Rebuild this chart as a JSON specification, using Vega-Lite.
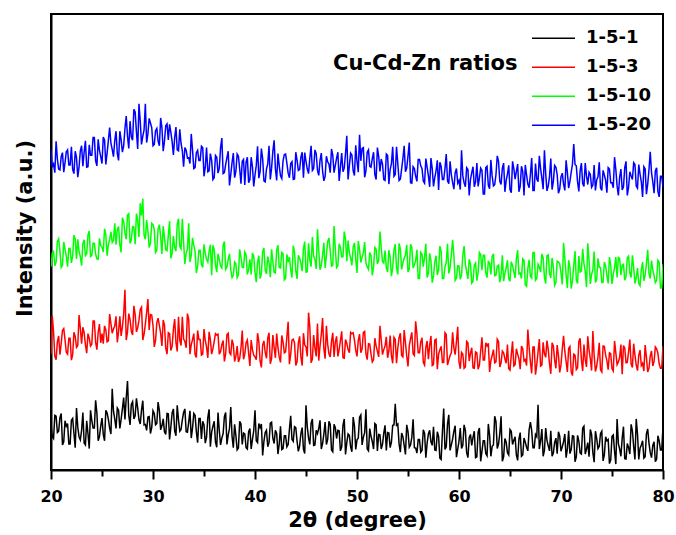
{
"$schema": "https://vega.github.io/schema/vega-lite/v6.json",
"width": 612, "height": 456,
"autosize": "none",
"padding": {"left": 51, "top": 14, "right": 13, "bottom": 65},
"background": "white",
"config": {"view": {"stroke": "black", "strokeWidth": 2}},
"data": {"values": [
{"x":20,"1-5-1":10.2,"1-5-3":25.4,"1-5-10":44.6,"1-5-20":70.2},
{"x":20.25,"1-5-1":6.9,"1-5-3":30.3,"1-5-10":47.9,"1-5-20":67.1},
{"x":20.5,"1-5-1":11.8,"1-5-3":24.2,"1-5-10":45.6,"1-5-20":72.1},
{"x":20.75,"1-5-1":8.5,"1-5-3":29.4,"1-5-10":50.7,"1-5-20":66.0},
{"x":21,"1-5-1":12.4,"1-5-3":27.7,"1-5-10":44.4,"1-5-20":68.7},
{"x":21.25,"1-5-1":6.2,"1-5-3":31.0,"1-5-10":50.0,"1-5-20":65.3},
{"x":21.5,"1-5-1":9.6,"1-5-3":25.8,"1-5-10":46.9,"1-5-20":69.8},
{"x":21.75,"1-5-1":5.7,"1-5-3":28.9,"1-5-10":48.6,"1-5-20":66.9},
{"x":22,"1-5-1":10.9,"1-5-3":24.1,"1-5-10":45.4,"1-5-20":70.9},
{"x":22.25,"1-5-1":8.0,"1-5-3":30.2,"1-5-10":51.5,"1-5-20":65.0},
{"x":22.5,"1-5-1":13.6,"1-5-3":26.9,"1-5-10":46.3,"1-5-20":68.5},
{"x":22.75,"1-5-1":7.3,"1-5-3":34.0,"1-5-10":47.9,"1-5-20":66.4},
{"x":23,"1-5-1":8.7,"1-5-3":27.7,"1-5-10":44.8,"1-5-20":71.1},
{"x":23.25,"1-5-1":5.9,"1-5-3":30.1,"1-5-10":50.5,"1-5-20":69.7},
{"x":23.5,"1-5-1":10.8,"1-5-3":25.6,"1-5-10":47.4,"1-5-20":66.4},
{"x":23.75,"1-5-1":4.7,"1-5-3":28.9,"1-5-10":52.4,"1-5-20":71.3},
{"x":24,"1-5-1":10.9,"1-5-3":27.6,"1-5-10":47.0,"1-5-20":69.0},
{"x":24.25,"1-5-1":9.2,"1-5-3":32.7,"1-5-10":49.7,"1-5-20":72.9},
{"x":24.5,"1-5-1":12.5,"1-5-3":26.4,"1-5-10":46.3,"1-5-20":66.7},
{"x":24.75,"1-5-1":7.3,"1-5-3":32.0,"1-5-10":50.8,"1-5-20":70.1},
{"x":25,"1-5-1":11.4,"1-5-3":29.9,"1-5-10":48.9,"1-5-20":67.2},
{"x":25.25,"1-5-1":6.4,"1-5-3":31.6,"1-5-10":52.9,"1-5-20":72.4},
{"x":25.5,"1-5-1":12.5,"1-5-3":28.1,"1-5-10":47.0,"1-5-20":69.5},
{"x":25.75,"1-5-1":9.2,"1-5-3":34.2,"1-5-10":50.5,"1-5-20":75.1},
{"x":26,"1-5-1":17.8,"1-5-3":30.0,"1-5-10":49.9,"1-5-20":70.3},
{"x":26.25,"1-5-1":11.2,"1-5-3":31.6,"1-5-10":54.1,"1-5-20":72.2},
{"x":26.5,"1-5-1":13.6,"1-5-3":28.0,"1-5-10":52.7,"1-5-20":69.4},
{"x":26.75,"1-5-1":9.1,"1-5-3":33.7,"1-5-10":49.4,"1-5-20":74.3},
{"x":27,"1-5-1":13.4,"1-5-3":31.4,"1-5-10":55.3,"1-5-20":69.7},
{"x":27.25,"1-5-1":11.1,"1-5-3":39.5,"1-5-10":52.0,"1-5-20":74.9},
{"x":27.5,"1-5-1":19.5,"1-5-3":30.3,"1-5-10":55.9,"1-5-20":73.2},
{"x":27.75,"1-5-1":9.9,"1-5-3":33.0,"1-5-10":49.7,"1-5-20":76.5},
{"x":28,"1-5-1":15.0,"1-5-3":29.6,"1-5-10":53.4,"1-5-20":72.3},
{"x":28.25,"1-5-1":11.9,"1-5-3":34.1,"1-5-10":49.5,"1-5-20":78.5},
{"x":28.5,"1-5-1":13.6,"1-5-3":31.2,"1-5-10":54.7,"1-5-20":70.4},
{"x":28.75,"1-5-1":10.1,"1-5-3":35.2,"1-5-10":58.5,"1-5-20":76.5},
{"x":29,"1-5-1":15.2,"1-5-3":28.5,"1-5-10":59.5,"1-5-20":73.2},
{"x":29.25,"1-5-1":10.0,"1-5-3":32.0,"1-5-10":50.6,"1-5-20":80.3},
{"x":29.5,"1-5-1":11.6,"1-5-3":37.5,"1-5-10":52.5,"1-5-20":73.7},
{"x":29.75,"1-5-1":8.0,"1-5-3":34.1,"1-5-10":49.7,"1-5-20":76.1},
{"x":30,"1-5-1":13.0,"1-5-3":31.7,"1-5-10":53.8,"1-5-20":71.1},
{"x":30.25,"1-5-1":9.9,"1-5-3":28.4,"1-5-10":47.7,"1-5-20":74.4},
{"x":30.5,"1-5-1":14.9,"1-5-3":33.3,"1-5-10":52.9,"1-5-20":72.1},
{"x":30.75,"1-5-1":8.8,"1-5-3":30.0,"1-5-10":51.2,"1-5-20":77.2},
{"x":31,"1-5-1":11.2,"1-5-3":32.9,"1-5-10":53.5,"1-5-20":69.9},
{"x":31.25,"1-5-1":7.8,"1-5-3":26.7,"1-5-10":48.3,"1-5-20":75.5},
{"x":31.5,"1-5-1":12.3,"1-5-3":30.1,"1-5-10":51.4,"1-5-20":72.4},
{"x":31.75,"1-5-1":9.4,"1-5-3":26.2,"1-5-10":46.4,"1-5-20":74.1},
{"x":32,"1-5-1":13.4,"1-5-3":30.9,"1-5-10":51.3,"1-5-20":69.1},
{"x":32.25,"1-5-1":7.5,"1-5-3":28.0,"1-5-10":48.0,"1-5-20":75.2},
{"x":32.5,"1-5-1":11.0,"1-5-3":33.6,"1-5-10":55.1,"1-5-20":70.0},
{"x":32.75,"1-5-1":8.9,"1-5-3":27.3,"1-5-10":48.5,"1-5-20":71.6},
{"x":33,"1-5-1":12.6,"1-5-3":28.7,"1-5-10":49.9,"1-5-20":66.5},
{"x":33.25,"1-5-1":8.4,"1-5-3":26.8,"1-5-10":47.5,"1-5-20":70.1},
{"x":33.5,"1-5-1":10.5,"1-5-3":33.1,"1-5-10":54.1,"1-5-20":68.5},
{"x":33.75,"1-5-1":7.0,"1-5-3":27.5,"1-5-10":47.0,"1-5-20":73.7},
{"x":34,"1-5-1":12.4,"1-5-3":29.9,"1-5-10":49.3,"1-5-20":66.1},
{"x":34.25,"1-5-1":8.4,"1-5-3":24.7,"1-5-10":43.2,"1-5-20":69.6},
{"x":34.5,"1-5-1":11.3,"1-5-3":28.6,"1-5-10":48.2,"1-5-20":67.9},
{"x":34.75,"1-5-1":6.8,"1-5-3":25.2,"1-5-10":45.1,"1-5-20":71.0},
{"x":35,"1-5-1":9.9,"1-5-3":30.9,"1-5-10":49.5,"1-5-20":64.4},
{"x":35.25,"1-5-1":7.2,"1-5-3":27.0,"1-5-10":46.2,"1-5-20":70.7},
{"x":35.5,"1-5-1":13.3,"1-5-3":30.3,"1-5-10":47.9,"1-5-20":65.6},
{"x":35.75,"1-5-1":8.3,"1-5-3":25.4,"1-5-10":42.7,"1-5-20":67.9},
{"x":36,"1-5-1":10.7,"1-5-3":28.2,"1-5-10":48.3,"1-5-20":64.1},
{"x":36.25,"1-5-1":5.0,"1-5-3":29.6,"1-5-10":43.4,"1-5-20":68.6},
{"x":36.5,"1-5-1":8.6,"1-5-3":25.4,"1-5-10":46.2,"1-5-20":66.2},
{"x":36.75,"1-5-1":7.0,"1-5-3":27.5,"1-5-10":44.3,"1-5-20":72.8},
{"x":37,"1-5-1":11.7,"1-5-3":23.8,"1-5-10":50.1,"1-5-20":65.2},
{"x":37.25,"1-5-1":5.6,"1-5-3":29.7,"1-5-10":44.5,"1-5-20":68.5},
{"x":37.5,"1-5-1":9.1,"1-5-3":25.7,"1-5-10":47.4,"1-5-20":62.4},
{"x":37.75,"1-5-1":7.4,"1-5-3":28.6,"1-5-10":42.2,"1-5-20":67.4},
{"x":38,"1-5-1":10.0,"1-5-3":23.8,"1-5-10":45.6,"1-5-20":64.1},
{"x":38.25,"1-5-1":4.4,"1-5-3":27.2,"1-5-10":42.2,"1-5-20":69.3},
{"x":38.5,"1-5-1":10.7,"1-5-3":24.5,"1-5-10":48.4,"1-5-20":66.0},
{"x":38.75,"1-5-1":5.6,"1-5-3":30.6,"1-5-10":44.5,"1-5-20":67.7},
{"x":39,"1-5-1":7.9,"1-5-3":25.4,"1-5-10":47.8,"1-5-20":62.5},
{"x":39.25,"1-5-1":4.6,"1-5-3":28.5,"1-5-10":42.9,"1-5-20":68.6},
{"x":39.5,"1-5-1":9.1,"1-5-3":22.8,"1-5-10":46.2,"1-5-20":63.7},
{"x":39.75,"1-5-1":6.7,"1-5-3":26.4,"1-5-10":47.6,"1-5-20":66.5},
{"x":40,"1-5-1":13.1,"1-5-3":24.8,"1-5-10":43.4,"1-5-20":64.7},
{"x":40.25,"1-5-1":6.0,"1-5-3":30.0,"1-5-10":45.5,"1-5-20":71.0},
{"x":40.5,"1-5-1":9.3,"1-5-3":23.9,"1-5-10":42.0,"1-5-20":65.4},
{"x":40.75,"1-5-1":3.2,"1-5-3":27.4,"1-5-10":47.9,"1-5-20":68.3},
{"x":41,"1-5-1":8.2,"1-5-3":25.8,"1-5-10":43.9,"1-5-20":63.2},
{"x":41.25,"1-5-1":5.1,"1-5-3":28.9,"1-5-10":46.8,"1-5-20":67.1},
{"x":41.5,"1-5-1":10.3,"1-5-3":23.3,"1-5-10":42.3,"1-5-20":63.7},
{"x":41.75,"1-5-1":7.0,"1-5-3":29.6,"1-5-10":45.7,"1-5-20":69.9},
{"x":42,"1-5-1":8.7,"1-5-3":24.6,"1-5-10":43.2,"1-5-20":66.1},
{"x":42.25,"1-5-1":3.5,"1-5-3":26.9,"1-5-10":49.3,"1-5-20":69.4},
{"x":42.5,"1-5-1":9.6,"1-5-3":23.6,"1-5-10":44.3,"1-5-20":64.5},
{"x":42.75,"1-5-1":4.7,"1-5-3":28.1,"1-5-10":47.4,"1-5-20":67.8},
{"x":43,"1-5-1":7.5,"1-5-3":25.9,"1-5-10":42.0,"1-5-20":69.3},
{"x":43.25,"1-5-1":5.6,"1-5-3":32.5,"1-5-10":45.6,"1-5-20":65.1},
{"x":43.5,"1-5-1":11.9,"1-5-3":25.4,"1-5-10":44.0,"1-5-20":67.2},
{"x":43.75,"1-5-1":6.3,"1-5-3":28.7,"1-5-10":49.2,"1-5-20":63.7},
{"x":44,"1-5-1":9.3,"1-5-3":22.9,"1-5-10":43.6,"1-5-20":69.7},
{"x":44.25,"1-5-1":4.1,"1-5-3":27.9,"1-5-10":47.1,"1-5-20":65.7},
{"x":44.5,"1-5-1":8.0,"1-5-3":24.8,"1-5-10":45.4,"1-5-20":68.6},
{"x":44.75,"1-5-1":4.6,"1-5-3":30.0,"1-5-10":48.5,"1-5-20":64.1},
{"x":45,"1-5-1":14.2,"1-5-3":27.0,"1-5-10":43.4,"1-5-20":67.7},
{"x":45.25,"1-5-1":7.0,"1-5-3":34.5,"1-5-10":49.7,"1-5-20":65.0},
{"x":45.5,"1-5-1":10.3,"1-5-3":23.5,"1-5-10":44.6,"1-5-20":71.1},
{"x":45.75,"1-5-1":5.4,"1-5-3":29.6,"1-5-10":46.9,"1-5-20":66.1},
{"x":46,"1-5-1":8.7,"1-5-3":24.9,"1-5-10":44.1,"1-5-20":69.4},
{"x":46.25,"1-5-1":9.1,"1-5-3":24.0,"1-5-10":48.2,"1-5-20":64.6},
{"x":46.5,"1-5-1":4.6,"1-5-3":29.7,"1-5-10":44.9,"1-5-20":69.5},
{"x":46.75,"1-5-1":7.9,"1-5-3":26.6,"1-5-10":49.8,"1-5-20":63.4},
{"x":47,"1-5-1":5.6,"1-5-3":31.6,"1-5-10":47.0,"1-5-20":68.8},
{"x":47.25,"1-5-1":10.7,"1-5-3":25.5,"1-5-10":50.9,"1-5-20":67.1},
{"x":47.5,"1-5-1":4.4,"1-5-3":28.2,"1-5-10":44.7,"1-5-20":70.4},
{"x":47.75,"1-5-1":10.0,"1-5-3":24.8,"1-5-10":53.5,"1-5-20":65.2},
{"x":48,"1-5-1":6.9,"1-5-3":29.3,"1-5-10":44.4,"1-5-20":68.4},
{"x":48.25,"1-5-1":8.6,"1-5-3":26.4,"1-5-10":49.6,"1-5-20":63.4},
{"x":48.5,"1-5-1":5.1,"1-5-3":30.4,"1-5-10":46.7,"1-5-20":69.5},
{"x":48.75,"1-5-1":11.2,"1-5-3":24.5,"1-5-10":52.3,"1-5-20":66.2},
{"x":49,"1-5-1":6.0,"1-5-3":27.8,"1-5-10":45.8,"1-5-20":73.3},
{"x":49.25,"1-5-1":7.6,"1-5-3":25.7,"1-5-10":47.7,"1-5-20":66.7},
{"x":49.5,"1-5-1":4.0,"1-5-3":29.9,"1-5-10":44.9,"1-5-20":69.1},
{"x":49.75,"1-5-1":9.7,"1-5-3":28.5,"1-5-10":49.8,"1-5-20":64.6},
{"x":50,"1-5-1":6.6,"1-5-3":24.9,"1-5-10":43.2,"1-5-20":67.7},
{"x":50.25,"1-5-1":11.6,"1-5-3":29.8,"1-5-10":48.4,"1-5-20":73.5},
{"x":50.5,"1-5-1":5.5,"1-5-3":26.5,"1-5-10":46.7,"1-5-20":70.5},
{"x":50.75,"1-5-1":8.2,"1-5-3":30.4,"1-5-10":50.0,"1-5-20":64.2},
{"x":51,"1-5-1":4.6,"1-5-3":24.2,"1-5-10":44.6,"1-5-20":69.7},
{"x":51.25,"1-5-1":9.1,"1-5-3":27.6,"1-5-10":47.7,"1-5-20":66.6},
{"x":51.5,"1-5-1":6.2,"1-5-3":23.7,"1-5-10":42.7,"1-5-20":68.3},
{"x":51.75,"1-5-1":10.2,"1-5-3":28.9,"1-5-10":48.8,"1-5-20":64.8},
{"x":52,"1-5-1":4.2,"1-5-3":26.0,"1-5-10":45.2,"1-5-20":70.7},
{"x":52.25,"1-5-1":7.7,"1-5-3":31.6,"1-5-10":52.3,"1-5-20":65.5},
{"x":52.5,"1-5-1":5.6,"1-5-3":25.3,"1-5-10":45.7,"1-5-20":67.1},
{"x":52.75,"1-5-1":9.8,"1-5-3":27.2,"1-5-10":48.1,"1-5-20":63.5},
{"x":53,"1-5-1":8.2,"1-5-3":24.6,"1-5-10":43.4,"1-5-20":69.0},
{"x":53.25,"1-5-1":4.9,"1-5-3":29.5,"1-5-10":46.7,"1-5-20":65.9},
{"x":53.5,"1-5-1":9.8,"1-5-3":23.4,"1-5-10":44.4,"1-5-20":70.9},
{"x":53.75,"1-5-1":14.5,"1-5-3":28.6,"1-5-10":49.5,"1-5-20":64.8},
{"x":54,"1-5-1":10.1,"1-5-3":26.7,"1-5-10":42.9,"1-5-20":67.2},
{"x":54.25,"1-5-1":3.9,"1-5-3":30.0,"1-5-10":48.5,"1-5-20":63.8},
{"x":54.5,"1-5-1":7.3,"1-5-3":24.8,"1-5-10":45.4,"1-5-20":68.3},
{"x":54.75,"1-5-1":3.4,"1-5-3":27.9,"1-5-10":47.1,"1-5-20":65.4},
{"x":55,"1-5-1":8.4,"1-5-3":22.7,"1-5-10":43.4,"1-5-20":68.9},
{"x":55.25,"1-5-1":5.5,"1-5-3":28.8,"1-5-10":49.5,"1-5-20":63.0},
{"x":55.5,"1-5-1":11.1,"1-5-3":25.5,"1-5-10":44.3,"1-5-20":66.5},
{"x":55.75,"1-5-1":4.8,"1-5-3":32.6,"1-5-10":45.9,"1-5-20":64.4},
{"x":56,"1-5-1":6.7,"1-5-3":25.7,"1-5-10":42.0,"1-5-20":68.1},
{"x":56.25,"1-5-1":3.9,"1-5-3":28.1,"1-5-10":47.7,"1-5-20":66.7},
{"x":56.5,"1-5-1":8.8,"1-5-3":23.6,"1-5-10":44.6,"1-5-20":63.4},
{"x":56.75,"1-5-1":2.7,"1-5-3":26.9,"1-5-10":49.6,"1-5-20":68.3},
{"x":57,"1-5-1":7.9,"1-5-3":24.3,"1-5-10":43.2,"1-5-20":64.5},
{"x":57.25,"1-5-1":6.2,"1-5-3":29.4,"1-5-10":45.9,"1-5-20":68.4},
{"x":57.5,"1-5-1":9.5,"1-5-3":23.1,"1-5-10":42.5,"1-5-20":62.2},
{"x":57.75,"1-5-1":4.3,"1-5-3":28.7,"1-5-10":47.0,"1-5-20":65.6},
{"x":58,"1-5-1":7.3,"1-5-3":25.4,"1-5-10":43.9,"1-5-20":61.4},
{"x":58.25,"1-5-1":2.3,"1-5-3":27.1,"1-5-10":47.9,"1-5-20":66.6},
{"x":58.5,"1-5-1":13.5,"1-5-3":23.6,"1-5-10":42.0,"1-5-20":63.7},
{"x":58.75,"1-5-1":5.1,"1-5-3":29.7,"1-5-10":45.5,"1-5-20":69.3},
{"x":59,"1-5-1":12.1,"1-5-3":24.1,"1-5-10":43.1,"1-5-20":62.8},
{"x":59.25,"1-5-1":5.5,"1-5-3":25.7,"1-5-10":47.3,"1-5-20":64.7},
{"x":59.5,"1-5-1":8.5,"1-5-3":26.8,"1-5-10":47.0,"1-5-20":61.6},
{"x":59.75,"1-5-1":2.8,"1-5-3":28.2,"1-5-10":42.1,"1-5-20":66.1},
{"x":60,"1-5-1":6.3,"1-5-3":23.7,"1-5-10":44.7,"1-5-20":63.5},
{"x":60.25,"1-5-1":4.7,"1-5-3":25.8,"1-5-10":42.8,"1-5-20":70.1},
{"x":60.5,"1-5-1":9.9,"1-5-3":22.3,"1-5-10":49.1,"1-5-20":63.0},
{"x":60.75,"1-5-1":3.8,"1-5-3":28.2,"1-5-10":43.5,"1-5-20":66.3},
{"x":61,"1-5-1":7.1,"1-5-3":23.9,"1-5-10":46.2,"1-5-20":60.2},
{"x":61.25,"1-5-1":5.4,"1-5-3":26.8,"1-5-10":41.0,"1-5-20":65.2},
{"x":61.5,"1-5-1":8.5,"1-5-3":22.3,"1-5-10":44.9,"1-5-20":62.1},
{"x":61.75,"1-5-1":2.9,"1-5-3":25.7,"1-5-10":41.5,"1-5-20":67.3},
{"x":62,"1-5-1":9.2,"1-5-3":23.0,"1-5-10":47.7,"1-5-20":64.0},
{"x":62.25,"1-5-1":4.1,"1-5-3":29.1,"1-5-10":43.8,"1-5-20":65.7},
{"x":62.5,"1-5-1":6.4,"1-5-3":24.1,"1-5-10":47.1,"1-5-20":60.5},
{"x":62.75,"1-5-1":3.1,"1-5-3":27.2,"1-5-10":42.2,"1-5-20":66.6},
{"x":63,"1-5-1":7.6,"1-5-3":21.5,"1-5-10":45.4,"1-5-20":61.7},
{"x":63.25,"1-5-1":5.2,"1-5-3":25.1,"1-5-10":46.8,"1-5-20":64.5},
{"x":63.5,"1-5-1":11.8,"1-5-3":23.5,"1-5-10":42.6,"1-5-20":62.6},
{"x":63.75,"1-5-1":4.7,"1-5-3":28.7,"1-5-10":44.7,"1-5-20":68.9},
{"x":64,"1-5-1":8.0,"1-5-3":22.6,"1-5-10":41.2,"1-5-20":63.3},
{"x":64.25,"1-5-1":1.9,"1-5-3":26.1,"1-5-10":47.1,"1-5-20":66.2},
{"x":64.5,"1-5-1":6.9,"1-5-3":24.4,"1-5-10":43.1,"1-5-20":61.0},
{"x":64.75,"1-5-1":3.8,"1-5-3":27.5,"1-5-10":46.0,"1-5-20":64.9},
{"x":65,"1-5-1":8.9,"1-5-3":21.9,"1-5-10":41.4,"1-5-20":61.5},
{"x":65.25,"1-5-1":5.6,"1-5-3":28.2,"1-5-10":44.8,"1-5-20":67.7},
{"x":65.5,"1-5-1":7.3,"1-5-3":23.1,"1-5-10":42.1,"1-5-20":63.8},
{"x":65.75,"1-5-1":2.1,"1-5-3":25.4,"1-5-10":48.2,"1-5-20":67.1},
{"x":66,"1-5-1":8.2,"1-5-3":22.1,"1-5-10":43.2,"1-5-20":62.2},
{"x":66.25,"1-5-1":3.3,"1-5-3":26.6,"1-5-10":46.3,"1-5-20":65.5},
{"x":66.5,"1-5-1":6.1,"1-5-3":24.2,"1-5-10":40.6,"1-5-20":66.9},
{"x":66.75,"1-5-1":4.2,"1-5-3":30.8,"1-5-10":44.2,"1-5-20":62.7},
{"x":67,"1-5-1":10.5,"1-5-3":23.7,"1-5-10":42.5,"1-5-20":64.8},
{"x":67.25,"1-5-1":4.9,"1-5-3":27.0,"1-5-10":47.7,"1-5-20":61.3},
{"x":67.5,"1-5-1":7.8,"1-5-3":20.9,"1-5-10":41.6,"1-5-20":67.2},
{"x":67.75,"1-5-1":14.3,"1-5-3":25.9,"1-5-10":45.1,"1-5-20":63.2},
{"x":68,"1-5-1":6.4,"1-5-3":22.8,"1-5-10":43.4,"1-5-20":66.1},
{"x":68.25,"1-5-1":3.0,"1-5-3":28.0,"1-5-10":46.5,"1-5-20":61.6},
{"x":68.5,"1-5-1":9.2,"1-5-3":24.7,"1-5-10":40.9,"1-5-20":65.0},
{"x":68.75,"1-5-1":5.3,"1-5-3":26.4,"1-5-10":47.2,"1-5-20":62.3},
{"x":69,"1-5-1":8.6,"1-5-3":21.1,"1-5-10":42.1,"1-5-20":68.3},
{"x":69.25,"1-5-1":3.7,"1-5-3":27.2,"1-5-10":44.4,"1-5-20":63.3},
{"x":69.5,"1-5-1":7.0,"1-5-3":22.3,"1-5-10":41.1,"1-5-20":66.4},
{"x":69.75,"1-5-1":8.4,"1-5-3":25.1,"1-5-10":45.6,"1-5-20":60.7},
{"x":70,"1-5-1":4.1,"1-5-3":23.1,"1-5-10":43.2,"1-5-20":64.3},
{"x":70.25,"1-5-1":6.2,"1-5-3":29.4,"1-5-10":49.8,"1-5-20":62.7},
{"x":70.5,"1-5-1":2.7,"1-5-3":23.8,"1-5-10":42.7,"1-5-20":67.9},
{"x":70.75,"1-5-1":8.6,"1-5-3":26.7,"1-5-10":46.0,"1-5-20":61.8},
{"x":71,"1-5-1":4.5,"1-5-3":21.5,"1-5-10":39.8,"1-5-20":65.3},
{"x":71.25,"1-5-1":7.4,"1-5-3":25.4,"1-5-10":44.8,"1-5-20":71.5},
{"x":71.5,"1-5-1":2.9,"1-5-3":22.0,"1-5-10":41.7,"1-5-20":66.7},
{"x":71.75,"1-5-1":6.3,"1-5-3":28.2,"1-5-10":46.9,"1-5-20":61.1},
{"x":72,"1-5-1":3.5,"1-5-3":24.2,"1-5-10":43.6,"1-5-20":67.3},
{"x":72.25,"1-5-1":9.6,"1-5-3":27.5,"1-5-10":45.3,"1-5-20":62.2},
{"x":72.5,"1-5-1":4.6,"1-5-3":22.6,"1-5-10":40.1,"1-5-20":64.5},
{"x":72.75,"1-5-1":2.9,"1-5-3":26.3,"1-5-10":46.1,"1-5-20":65.3},
{"x":73,"1-5-1":7.8,"1-5-3":21.8,"1-5-10":42.9,"1-5-20":62.0},
{"x":73.25,"1-5-1":1.7,"1-5-3":25.1,"1-5-10":47.9,"1-5-20":66.9},
{"x":73.5,"1-5-1":6.9,"1-5-3":22.8,"1-5-10":41.8,"1-5-20":63.6},
{"x":73.75,"1-5-1":5.2,"1-5-3":27.9,"1-5-10":44.5,"1-5-20":67.5},
{"x":74,"1-5-1":8.5,"1-5-3":21.5,"1-5-10":41.1,"1-5-20":61.3},
{"x":74.25,"1-5-1":3.3,"1-5-3":27.1,"1-5-10":45.6,"1-5-20":64.7},
{"x":74.5,"1-5-1":6.4,"1-5-3":24.0,"1-5-10":42.7,"1-5-20":60.8},
{"x":74.75,"1-5-1":1.4,"1-5-3":25.7,"1-5-10":46.7,"1-5-20":66.0},
{"x":75,"1-5-1":7.4,"1-5-3":22.2,"1-5-10":40.8,"1-5-20":63.0},
{"x":75.25,"1-5-1":4.1,"1-5-3":28.3,"1-5-10":44.3,"1-5-20":68.6},
{"x":75.5,"1-5-1":11.2,"1-5-3":23.1,"1-5-10":42.2,"1-5-20":62.3},
{"x":75.75,"1-5-1":4.6,"1-5-3":24.7,"1-5-10":46.4,"1-5-20":64.2},
{"x":76,"1-5-1":7.0,"1-5-3":21.0,"1-5-10":44.9,"1-5-20":61.4},
{"x":76.25,"1-5-1":2.5,"1-5-3":26.7,"1-5-10":41.6,"1-5-20":66.3},
{"x":76.5,"1-5-1":5.8,"1-5-3":23.6,"1-5-10":46.5,"1-5-20":60.2},
{"x":76.75,"1-5-1":3.5,"1-5-3":28.6,"1-5-10":43.2,"1-5-20":65.4},
{"x":77,"1-5-1":8.6,"1-5-3":22.5,"1-5-10":47.1,"1-5-20":63.7},
{"x":77.25,"1-5-1":2.3,"1-5-3":25.2,"1-5-10":40.9,"1-5-20":67.0},
{"x":77.5,"1-5-1":7.9,"1-5-3":21.8,"1-5-10":44.3,"1-5-20":61.8},
{"x":77.75,"1-5-1":4.8,"1-5-3":26.3,"1-5-10":40.4,"1-5-20":64.9},
{"x":78,"1-5-1":6.4,"1-5-3":23.4,"1-5-10":45.6,"1-5-20":59.9},
{"x":78.25,"1-5-1":2.9,"1-5-3":27.4,"1-5-10":42.7,"1-5-20":66.0},
{"x":78.5,"1-5-1":9.0,"1-5-3":21.5,"1-5-10":48.3,"1-5-20":62.7},
{"x":78.75,"1-5-1":3.8,"1-5-3":25.0,"1-5-10":42.0,"1-5-20":69.8},
{"x":79,"1-5-1":5.4,"1-5-3":22.8,"1-5-10":43.9,"1-5-20":63.2},
{"x":79.25,"1-5-1":1.8,"1-5-3":27.0,"1-5-10":41.1,"1-5-20":65.6},
{"x":79.5,"1-5-1":7.5,"1-5-3":25.6,"1-5-10":46.0,"1-5-20":61.1},
{"x":79.75,"1-5-1":4.4,"1-5-3":22.3,"1-5-10":39.9,"1-5-20":64.4},
{"x":80,"1-5-1":9.4,"1-5-3":27.2,"1-5-10":45.1,"1-5-20":62.1},
{"x":20.125,"1-5-1":7.3,"1-5-3":33.8,"1-5-10":47.6,"1-5-20":66.4},
{"x":20.375,"1-5-1":12.0,"1-5-3":24.9,"1-5-10":44.8,"1-5-20":65.2},
{"x":20.625,"1-5-1":8.2,"1-5-3":28.1,"1-5-10":50.1,"1-5-20":68.2},
{"x":20.875,"1-5-1":11.5,"1-5-3":25.3,"1-5-10":48.1,"1-5-20":65.8},
{"x":21.125,"1-5-1":5.5,"1-5-3":30.6,"1-5-10":44.9,"1-5-20":69.6},
{"x":21.375,"1-5-1":10.8,"1-5-3":28.6,"1-5-10":48.4,"1-5-20":67.4},
{"x":21.625,"1-5-1":10.2,"1-5-3":25.4,"1-5-10":44.6,"1-5-20":70.2},
{"x":21.875,"1-5-1":5.7,"1-5-3":28.9,"1-5-10":48.6,"1-5-20":66.9},
{"x":22.125,"1-5-1":11.3,"1-5-3":25.3,"1-5-10":46.9,"1-5-20":65.9},
{"x":22.375,"1-5-1":4.9,"1-5-3":29.3,"1-5-10":50.7,"1-5-20":69.9},
{"x":22.625,"1-5-1":9.4,"1-5-3":27.3,"1-5-10":50.6,"1-5-20":64.2},
{"x":22.875,"1-5-1":6.6,"1-5-3":31.1,"1-5-10":46.8,"1-5-20":70.0},
{"x":23.125,"1-5-1":12.6,"1-5-3":31.3,"1-5-10":49.7,"1-5-20":66.6},
{"x":23.375,"1-5-1":5.5,"1-5-3":27.5,"1-5-10":47.0,"1-5-20":72.2},
{"x":23.625,"1-5-1":8.0,"1-5-3":29.9,"1-5-10":51.5,"1-5-20":66.5},
{"x":23.875,"1-5-1":13.1,"1-5-3":27.2,"1-5-10":46.8,"1-5-20":69.0},
{"x":24.125,"1-5-1":9.2,"1-5-3":32.7,"1-5-10":49.7,"1-5-20":72.9},
{"x":24.375,"1-5-1":15.3,"1-5-3":28.0,"1-5-10":47.4,"1-5-20":67.8},
{"x":24.625,"1-5-1":6.4,"1-5-3":30.2,"1-5-10":46.2,"1-5-20":72.5},
{"x":24.875,"1-5-1":9.6,"1-5-3":27.9,"1-5-10":49.2,"1-5-20":68.7},
{"x":25.125,"1-5-1":7.8,"1-5-3":27.7,"1-5-10":47.8,"1-5-20":73.0},
{"x":25.375,"1-5-1":13.1,"1-5-3":30.7,"1-5-10":51.6,"1-5-20":67.0},
{"x":25.625,"1-5-1":11.1,"1-5-3":28.3,"1-5-10":49.4,"1-5-20":72.3},
{"x":25.875,"1-5-1":7.9,"1-5-3":32.1,"1-5-10":52.2,"1-5-20":71.7},
{"x":26.125,"1-5-1":12.9,"1-5-3":30.9,"1-5-10":50.4,"1-5-20":68.7},
{"x":26.375,"1-5-1":9.1,"1-5-3":33.7,"1-5-10":49.4,"1-5-20":74.3},
{"x":26.625,"1-5-1":13.1,"1-5-3":30.4,"1-5-10":53.4,"1-5-20":67.9},
{"x":26.875,"1-5-1":11.1,"1-5-3":29.4,"1-5-10":47.7,"1-5-20":72.4},
{"x":27.125,"1-5-1":15.9,"1-5-3":34.2,"1-5-10":54.5,"1-5-20":71.1},
{"x":27.375,"1-5-1":15.8,"1-5-3":28.5,"1-5-10":50.6,"1-5-20":77.6},
{"x":27.625,"1-5-1":12.0,"1-5-3":34.3,"1-5-10":56.2,"1-5-20":70.5},
{"x":27.875,"1-5-1":14.4,"1-5-3":30.4,"1-5-10":50.5,"1-5-20":73.0},
{"x":28.125,"1-5-1":11.2,"1-5-3":36.0,"1-5-10":53.3,"1-5-20":79.1},
{"x":28.375,"1-5-1":15.7,"1-5-3":30.3,"1-5-10":56.2,"1-5-20":74.2},
{"x":28.625,"1-5-1":11.0,"1-5-3":32.8,"1-5-10":51.1,"1-5-20":80.3},
{"x":28.875,"1-5-1":13.2,"1-5-3":35.7,"1-5-10":55.8,"1-5-20":71.4},
{"x":29.125,"1-5-1":9.9,"1-5-3":29.8,"1-5-10":51.5,"1-5-20":74.6},
{"x":29.375,"1-5-1":8.7,"1-5-3":34.5,"1-5-10":54.8,"1-5-20":71.8},
{"x":29.625,"1-5-1":11.7,"1-5-3":30.7,"1-5-10":48.8,"1-5-20":77.1},
{"x":29.875,"1-5-1":9.3,"1-5-3":34.0,"1-5-10":54.1,"1-5-20":75.1},
{"x":30.125,"1-5-1":12.4,"1-5-3":27.0,"1-5-10":52.7,"1-5-20":71.4},
{"x":30.375,"1-5-1":10.2,"1-5-3":32.3,"1-5-10":48.2,"1-5-20":74.9},
{"x":30.625,"1-5-1":13.0,"1-5-3":31.7,"1-5-10":53.8,"1-5-20":71.1},
{"x":30.875,"1-5-1":9.7,"1-5-3":27.2,"1-5-10":47.4,"1-5-20":75.1},
{"x":31.125,"1-5-1":8.4,"1-5-3":31.8,"1-5-10":50.9,"1-5-20":72.1},
{"x":31.375,"1-5-1":12.4,"1-5-3":25.4,"1-5-10":48.1,"1-5-20":75.9},
{"x":31.625,"1-5-1":6.7,"1-5-3":29.9,"1-5-10":54.6,"1-5-20":75.8},
{"x":31.875,"1-5-1":12.5,"1-5-3":27.1,"1-5-10":47.5,"1-5-20":72.0},
{"x":32.125,"1-5-1":8.6,"1-5-3":33.1,"1-5-10":48.8,"1-5-20":72.9},
{"x":32.375,"1-5-1":14.2,"1-5-3":26.0,"1-5-10":53.9,"1-5-20":70.2},
{"x":32.625,"1-5-1":8.5,"1-5-3":28.5,"1-5-10":49.0,"1-5-20":74.7},
{"x":32.875,"1-5-1":11.0,"1-5-3":33.6,"1-5-10":55.1,"1-5-20":70.0},
{"x":33.125,"1-5-1":13.4,"1-5-3":28.2,"1-5-10":45.2,"1-5-20":70.7},
{"x":33.375,"1-5-1":8.3,"1-5-3":34.3,"1-5-10":48.4,"1-5-20":68.4},
{"x":33.625,"1-5-1":13.0,"1-5-3":25.4,"1-5-10":45.6,"1-5-20":67.2},
{"x":33.875,"1-5-1":9.2,"1-5-3":28.6,"1-5-10":50.9,"1-5-20":70.2},
{"x":34.125,"1-5-1":12.0,"1-5-3":25.3,"1-5-10":47.9,"1-5-20":66.3},
{"x":34.375,"1-5-1":6.0,"1-5-3":30.6,"1-5-10":44.7,"1-5-20":70.1},
{"x":34.625,"1-5-1":11.3,"1-5-3":28.6,"1-5-10":48.2,"1-5-20":67.9},
{"x":34.875,"1-5-1":10.7,"1-5-3":25.4,"1-5-10":44.4,"1-5-20":70.7},
{"x":35.125,"1-5-1":5.9,"1-5-3":28.4,"1-5-10":47.6,"1-5-20":66.4},
{"x":35.375,"1-5-1":11.5,"1-5-3":24.6,"1-5-10":45.6,"1-5-20":65.4},
{"x":35.625,"1-5-1":5.1,"1-5-3":28.6,"1-5-10":49.4,"1-5-20":69.4},
{"x":35.875,"1-5-1":9.6,"1-5-3":26.6,"1-5-10":49.3,"1-5-20":63.7},
{"x":36.125,"1-5-1":6.1,"1-5-3":29.9,"1-5-10":45.0,"1-5-20":69.0},
{"x":36.375,"1-5-1":12.6,"1-5-3":29.8,"1-5-10":47.4,"1-5-20":65.1},
{"x":36.625,"1-5-1":5.5,"1-5-3":26.0,"1-5-10":44.7,"1-5-20":70.7},
{"x":36.875,"1-5-1":8.0,"1-5-3":28.4,"1-5-10":49.2,"1-5-20":65.0},
{"x":37.125,"1-5-1":12.6,"1-5-3":25.5,"1-5-10":44.0,"1-5-20":67.0},
{"x":37.375,"1-5-1":7.7,"1-5-3":30.0,"1-5-10":46.2,"1-5-20":69.9},
{"x":37.625,"1-5-1":13.8,"1-5-3":25.3,"1-5-10":43.9,"1-5-20":64.8},
{"x":37.875,"1-5-1":4.9,"1-5-3":27.5,"1-5-10":42.7,"1-5-20":69.5},
{"x":38.125,"1-5-1":7.6,"1-5-3":24.9,"1-5-10":45.2,"1-5-20":65.5},
{"x":38.375,"1-5-1":4.8,"1-5-3":23.7,"1-5-10":42.8,"1-5-20":68.8},
{"x":38.625,"1-5-1":10.1,"1-5-3":26.7,"1-5-10":46.6,"1-5-20":62.8},
{"x":38.875,"1-5-1":8.1,"1-5-3":24.3,"1-5-10":44.4,"1-5-20":68.1},
{"x":39.125,"1-5-1":4.9,"1-5-3":27.9,"1-5-10":47.2,"1-5-20":67.5},
{"x":39.375,"1-5-1":8.4,"1-5-3":25.7,"1-5-10":43.9,"1-5-20":63.0},
{"x":39.625,"1-5-1":4.6,"1-5-3":28.5,"1-5-10":42.9,"1-5-20":68.6},
{"x":39.875,"1-5-1":8.6,"1-5-3":25.2,"1-5-10":46.9,"1-5-20":62.2},
{"x":40.125,"1-5-1":6.4,"1-5-3":24.2,"1-5-10":41.2,"1-5-20":66.8},
{"x":40.375,"1-5-1":10.2,"1-5-3":28.2,"1-5-10":47.0,"1-5-20":64.0},
{"x":40.625,"1-5-1":10.1,"1-5-3":22.5,"1-5-10":43.1,"1-5-20":70.5},
{"x":40.875,"1-5-1":6.3,"1-5-3":28.3,"1-5-10":48.7,"1-5-20":63.4},
{"x":41.125,"1-5-1":8.7,"1-5-3":24.5,"1-5-10":43.0,"1-5-20":66.0},
{"x":41.375,"1-5-1":6.0,"1-5-3":30.1,"1-5-10":45.5,"1-5-20":71.1},
{"x":41.625,"1-5-1":10.5,"1-5-3":24.4,"1-5-10":48.4,"1-5-20":66.2},
{"x":41.875,"1-5-1":5.8,"1-5-3":26.9,"1-5-10":43.3,"1-5-20":72.3},
{"x":42.125,"1-5-1":8.0,"1-5-3":29.9,"1-5-10":48.2,"1-5-20":63.5},
{"x":42.375,"1-5-1":5.7,"1-5-3":24.8,"1-5-10":44.4,"1-5-20":66.7},
{"x":42.625,"1-5-1":4.5,"1-5-3":29.5,"1-5-10":47.7,"1-5-20":63.9},
{"x":42.875,"1-5-1":7.5,"1-5-3":25.7,"1-5-10":41.7,"1-5-20":69.2},
{"x":43.125,"1-5-1":5.1,"1-5-3":29.2,"1-5-10":47.3,"1-5-20":67.3},
{"x":43.375,"1-5-1":8.9,"1-5-3":23.2,"1-5-10":46.7,"1-5-20":64.1},
{"x":43.625,"1-5-1":6.7,"1-5-3":28.5,"1-5-10":42.2,"1-5-20":67.6},
{"x":43.875,"1-5-1":9.5,"1-5-3":27.9,"1-5-10":47.8,"1-5-20":63.8},
{"x":44.125,"1-5-1":6.3,"1-5-3":23.7,"1-5-10":41.9,"1-5-20":67.9},
{"x":44.375,"1-5-1":5.3,"1-5-3":29.3,"1-5-10":46.4,"1-5-20":65.9},
{"x":44.625,"1-5-1":9.3,"1-5-3":22.9,"1-5-10":43.6,"1-5-20":69.7},
{"x":44.875,"1-5-1":3.6,"1-5-3":27.4,"1-5-10":50.1,"1-5-20":69.6},
{"x":45.125,"1-5-1":9.5,"1-5-3":24.9,"1-5-10":43.5,"1-5-20":66.0},
{"x":45.375,"1-5-1":5.6,"1-5-3":31.4,"1-5-10":46.0,"1-5-20":68.4},
{"x":45.625,"1-5-1":11.2,"1-5-3":24.3,"1-5-10":51.1,"1-5-20":65.7},
{"x":45.875,"1-5-1":5.5,"1-5-3":26.8,"1-5-10":46.2,"1-5-20":70.2},
{"x":46.125,"1-5-1":8.0,"1-5-3":32.1,"1-5-10":52.8,"1-5-20":65.7},
{"x":46.375,"1-5-1":10.9,"1-5-3":27.2,"1-5-10":43.9,"1-5-20":67.9},
{"x":46.625,"1-5-1":5.8,"1-5-3":33.3,"1-5-10":47.1,"1-5-20":65.6},
{"x":46.875,"1-5-1":10.5,"1-5-3":24.4,"1-5-10":44.3,"1-5-20":64.4},
{"x":47.125,"1-5-1":6.7,"1-5-3":27.6,"1-5-10":50.1,"1-5-20":67.6},
{"x":47.375,"1-5-1":10.0,"1-5-3":24.8,"1-5-10":48.1,"1-5-20":65.2},
{"x":47.625,"1-5-1":4.0,"1-5-3":30.1,"1-5-10":44.9,"1-5-20":69.0},
{"x":47.875,"1-5-1":9.3,"1-5-3":28.1,"1-5-10":48.4,"1-5-20":66.8},
{"x":48.125,"1-5-1":8.7,"1-5-3":24.9,"1-5-10":44.8,"1-5-20":69.7},
{"x":48.375,"1-5-1":4.2,"1-5-3":28.4,"1-5-10":48.8,"1-5-20":66.4},
{"x":48.625,"1-5-1":9.8,"1-5-3":24.6,"1-5-10":46.8,"1-5-20":65.4},
{"x":48.875,"1-5-1":3.4,"1-5-3":28.6,"1-5-10":50.6,"1-5-20":69.4},
{"x":49.125,"1-5-1":7.9,"1-5-3":26.4,"1-5-10":50.3,"1-5-20":63.7},
{"x":49.375,"1-5-1":5.1,"1-5-3":30.2,"1-5-10":46.5,"1-5-20":69.5},
{"x":49.625,"1-5-1":11.6,"1-5-3":30.1,"1-5-10":48.9,"1-5-20":65.6},
{"x":49.875,"1-5-1":4.5,"1-5-3":26.3,"1-5-10":46.2,"1-5-20":71.2},
{"x":50.125,"1-5-1":7.0,"1-5-3":28.4,"1-5-10":50.2,"1-5-20":65.3},
{"x":50.375,"1-5-1":12.1,"1-5-3":25.7,"1-5-10":45.5,"1-5-20":67.8},
{"x":50.625,"1-5-1":7.2,"1-5-3":30.2,"1-5-10":47.7,"1-5-20":70.7},
{"x":50.875,"1-5-1":13.3,"1-5-3":25.5,"1-5-10":45.4,"1-5-20":65.6},
{"x":51.125,"1-5-1":4.2,"1-5-3":27.7,"1-5-10":44.0,"1-5-20":70.2},
{"x":51.375,"1-5-1":7.4,"1-5-3":25.4,"1-5-10":47.0,"1-5-20":66.4},
{"x":51.625,"1-5-1":4.6,"1-5-3":24.2,"1-5-10":44.6,"1-5-20":69.7},
{"x":51.875,"1-5-1":9.9,"1-5-3":27.2,"1-5-10":48.4,"1-5-20":63.7},
{"x":52.125,"1-5-1":7.8,"1-5-3":24.8,"1-5-10":45.9,"1-5-20":68.8},
{"x":52.375,"1-5-1":4.6,"1-5-3":28.6,"1-5-10":48.7,"1-5-20":68.2},
{"x":52.625,"1-5-1":8.1,"1-5-3":26.4,"1-5-10":45.4,"1-5-20":63.7},
{"x":52.875,"1-5-1":4.3,"1-5-3":29.2,"1-5-10":44.4,"1-5-20":69.3},
{"x":53.125,"1-5-1":8.1,"1-5-3":26.1,"1-5-10":48.2,"1-5-20":62.7},
{"x":53.375,"1-5-1":6.1,"1-5-3":25.1,"1-5-10":42.5,"1-5-20":67.2},
{"x":53.625,"1-5-1":9.9,"1-5-3":29.1,"1-5-10":48.3,"1-5-20":64.4},
{"x":53.875,"1-5-1":9.8,"1-5-3":23.4,"1-5-10":44.4,"1-5-20":70.9},
{"x":54.125,"1-5-1":5.7,"1-5-3":29.0,"1-5-10":49.7,"1-5-20":63.5},
{"x":54.375,"1-5-1":8.1,"1-5-3":25.1,"1-5-10":44.0,"1-5-20":66.0},
{"x":54.625,"1-5-1":5.4,"1-5-3":30.7,"1-5-10":46.5,"1-5-20":71.1},
{"x":54.875,"1-5-1":9.9,"1-5-3":25.0,"1-5-10":49.4,"1-5-20":66.2},
{"x":55.125,"1-5-1":5.0,"1-5-3":27.3,"1-5-10":44.1,"1-5-20":71.8},
{"x":55.375,"1-5-1":7.2,"1-5-3":30.2,"1-5-10":48.8,"1-5-20":62.9},
{"x":55.625,"1-5-1":4.9,"1-5-3":25.1,"1-5-10":45.0,"1-5-20":66.1},
{"x":55.875,"1-5-1":3.7,"1-5-3":29.8,"1-5-10":48.3,"1-5-20":63.3},
{"x":56.125,"1-5-1":6.7,"1-5-3":25.7,"1-5-10":42.0,"1-5-20":68.1},
{"x":56.375,"1-5-1":4.3,"1-5-3":29.0,"1-5-10":47.3,"1-5-20":66.1},
{"x":56.625,"1-5-1":8.1,"1-5-3":23.0,"1-5-10":46.7,"1-5-20":62.9},
{"x":56.875,"1-5-1":5.9,"1-5-3":28.3,"1-5-10":42.2,"1-5-20":66.4},
{"x":57.125,"1-5-1":8.7,"1-5-3":27.4,"1-5-10":47.5,"1-5-20":62.1},
{"x":57.375,"1-5-1":5.4,"1-5-3":22.9,"1-5-10":41.1,"1-5-20":66.1},
{"x":57.625,"1-5-1":4.4,"1-5-3":28.5,"1-5-10":45.6,"1-5-20":64.1},
{"x":57.875,"1-5-1":8.4,"1-5-3":22.1,"1-5-10":42.8,"1-5-20":67.9},
{"x":58.125,"1-5-1":2.6,"1-5-3":26.4,"1-5-10":49.1,"1-5-20":67.5},
{"x":58.375,"1-5-1":8.4,"1-5-3":23.6,"1-5-10":42.0,"1-5-20":63.7},
{"x":58.625,"1-5-1":4.5,"1-5-3":30.1,"1-5-10":44.5,"1-5-20":66.1},
{"x":58.875,"1-5-1":10.1,"1-5-3":23.0,"1-5-10":49.6,"1-5-20":63.4},
{"x":59.125,"1-5-1":4.3,"1-5-3":25.1,"1-5-10":44.4,"1-5-20":67.7},
{"x":59.375,"1-5-1":6.8,"1-5-3":30.2,"1-5-10":50.5,"1-5-20":63.0},
{"x":59.625,"1-5-1":9.7,"1-5-3":25.3,"1-5-10":41.6,"1-5-20":65.2},
{"x":59.875,"1-5-1":4.6,"1-5-3":31.4,"1-5-10":44.8,"1-5-20":62.9},
{"x":60.125,"1-5-1":9.2,"1-5-3":22.2,"1-5-10":41.8,"1-5-20":61.5},
{"x":60.375,"1-5-1":5.4,"1-5-3":25.4,"1-5-10":47.1,"1-5-20":64.5},
{"x":60.625,"1-5-1":8.7,"1-5-3":22.6,"1-5-10":45.1,"1-5-20":62.1},
{"x":60.875,"1-5-1":2.7,"1-5-3":27.9,"1-5-10":41.9,"1-5-20":65.9},
{"x":61.125,"1-5-1":7.8,"1-5-3":25.6,"1-5-10":45.2,"1-5-20":63.7},
{"x":61.375,"1-5-1":7.2,"1-5-3":22.4,"1-5-10":41.4,"1-5-20":66.5},
{"x":61.625,"1-5-1":2.7,"1-5-3":25.9,"1-5-10":45.4,"1-5-20":63.2},
{"x":61.875,"1-5-1":8.3,"1-5-3":22.1,"1-5-10":43.4,"1-5-20":62.2},
{"x":62.125,"1-5-1":1.9,"1-5-3":26.1,"1-5-10":47.2,"1-5-20":66.2},
{"x":62.375,"1-5-1":6.4,"1-5-3":24.1,"1-5-10":47.1,"1-5-20":60.5},
{"x":62.625,"1-5-1":3.6,"1-5-3":27.9,"1-5-10":43.3,"1-5-20":66.3},
{"x":62.875,"1-5-1":10.1,"1-5-3":27.8,"1-5-10":45.7,"1-5-20":62.4},
{"x":63.125,"1-5-1":3.0,"1-5-3":24.0,"1-5-10":42.9,"1-5-20":68.0},
{"x":63.375,"1-5-1":5.5,"1-5-3":26.4,"1-5-10":47.4,"1-5-20":62.3},
{"x":63.625,"1-5-1":10.6,"1-5-3":23.7,"1-5-10":42.7,"1-5-20":64.8},
{"x":63.875,"1-5-1":5.7,"1-5-3":28.2,"1-5-10":44.9,"1-5-20":67.7},
{"x":64.125,"1-5-1":11.8,"1-5-3":23.5,"1-5-10":42.6,"1-5-20":62.6},
{"x":64.375,"1-5-1":2.9,"1-5-3":25.7,"1-5-10":41.4,"1-5-20":67.3},
{"x":64.625,"1-5-1":6.1,"1-5-3":23.4,"1-5-10":44.4,"1-5-20":63.5},
{"x":64.875,"1-5-1":3.3,"1-5-3":22.2,"1-5-10":42.0,"1-5-20":66.8},
{"x":65.125,"1-5-1":8.5,"1-5-3":25.2,"1-5-10":45.7,"1-5-20":60.8},
{"x":65.375,"1-5-1":6.5,"1-5-3":22.8,"1-5-10":43.5,"1-5-20":66.1},
{"x":65.625,"1-5-1":3.3,"1-5-3":26.6,"1-5-10":46.3,"1-5-20":65.5},
{"x":65.875,"1-5-1":6.8,"1-5-3":24.4,"1-5-10":43.0,"1-5-20":61.0},
{"x":66.125,"1-5-1":3.0,"1-5-3":27.2,"1-5-10":42.0,"1-5-20":66.6},
{"x":66.375,"1-5-1":7.0,"1-5-3":23.9,"1-5-10":46.0,"1-5-20":60.2},
{"x":66.625,"1-5-1":5.0,"1-5-3":22.9,"1-5-10":40.3,"1-5-20":64.7},
{"x":66.875,"1-5-1":8.8,"1-5-3":26.9,"1-5-10":46.1,"1-5-20":61.9},
{"x":67.125,"1-5-1":8.7,"1-5-3":21.2,"1-5-10":42.1,"1-5-20":68.4},
{"x":67.375,"1-5-1":4.9,"1-5-3":27.0,"1-5-10":47.7,"1-5-20":61.3},
{"x":67.625,"1-5-1":7.3,"1-5-3":23.1,"1-5-10":42.0,"1-5-20":63.8},
{"x":67.875,"1-5-1":4.6,"1-5-3":28.7,"1-5-10":44.5,"1-5-20":68.9},
{"x":68.125,"1-5-1":9.0,"1-5-3":23.0,"1-5-10":47.4,"1-5-20":64.0},
{"x":68.375,"1-5-1":4.3,"1-5-3":25.5,"1-5-10":42.3,"1-5-20":70.1},
{"x":68.625,"1-5-1":6.5,"1-5-3":28.4,"1-5-10":47.0,"1-5-20":61.2},
{"x":68.875,"1-5-1":4.2,"1-5-3":23.3,"1-5-10":43.2,"1-5-20":64.4},
{"x":69.125,"1-5-1":3.0,"1-5-3":27.9,"1-5-10":46.5,"1-5-20":61.5},
{"x":69.375,"1-5-1":6.0,"1-5-3":24.1,"1-5-10":40.5,"1-5-20":66.8},
{"x":69.625,"1-5-1":3.6,"1-5-3":27.4,"1-5-10":45.8,"1-5-20":64.8},
{"x":69.875,"1-5-1":7.4,"1-5-3":21.4,"1-5-10":45.2,"1-5-20":61.6},
{"x":70.125,"1-5-1":5.1,"1-5-3":26.6,"1-5-10":40.7,"1-5-20":65.1},
{"x":70.375,"1-5-1":7.9,"1-5-3":26.0,"1-5-10":46.3,"1-5-20":61.3},
{"x":70.625,"1-5-1":4.6,"1-5-3":21.5,"1-5-10":39.9,"1-5-20":65.3},
{"x":70.875,"1-5-1":3.6,"1-5-3":27.1,"1-5-10":44.4,"1-5-20":63.3},
{"x":71.125,"1-5-1":7.5,"1-5-3":20.7,"1-5-10":41.5,"1-5-20":67.1},
{"x":71.375,"1-5-1":1.8,"1-5-3":25.2,"1-5-10":48.0,"1-5-20":67.0},
{"x":71.625,"1-5-1":7.6,"1-5-3":22.4,"1-5-10":40.9,"1-5-20":63.2},
{"x":71.875,"1-5-1":3.7,"1-5-3":28.9,"1-5-10":43.4,"1-5-20":65.6},
{"x":72.125,"1-5-1":9.2,"1-5-3":21.7,"1-5-10":48.5,"1-5-20":62.8},
{"x":72.375,"1-5-1":3.5,"1-5-3":24.2,"1-5-10":43.6,"1-5-20":67.3},
{"x":72.625,"1-5-1":6.0,"1-5-3":29.3,"1-5-10":49.7,"1-5-20":62.6},
{"x":72.875,"1-5-1":8.9,"1-5-3":24.4,"1-5-10":40.8,"1-5-20":64.8},
{"x":73.125,"1-5-1":3.8,"1-5-3":30.5,"1-5-10":43.9,"1-5-20":62.5},
{"x":73.375,"1-5-1":8.5,"1-5-3":21.6,"1-5-10":41.1,"1-5-20":61.3},
{"x":73.625,"1-5-1":4.7,"1-5-3":24.8,"1-5-10":46.4,"1-5-20":64.3},
{"x":73.875,"1-5-1":8.0,"1-5-3":22.0,"1-5-10":44.4,"1-5-20":61.9},
{"x":74.125,"1-5-1":2.0,"1-5-3":27.2,"1-5-10":41.2,"1-5-20":65.7},
{"x":74.375,"1-5-1":7.3,"1-5-3":25.2,"1-5-10":44.7,"1-5-20":63.5},
{"x":74.625,"1-5-1":6.7,"1-5-3":22.0,"1-5-10":40.9,"1-5-20":66.3},
{"x":74.875,"1-5-1":2.2,"1-5-3":25.5,"1-5-10":44.9,"1-5-20":63.0},
{"x":75.125,"1-5-1":7.7,"1-5-3":21.7,"1-5-10":42.9,"1-5-20":61.9},
{"x":75.375,"1-5-1":1.3,"1-5-3":25.7,"1-5-10":46.7,"1-5-20":65.9},
{"x":75.625,"1-5-1":5.8,"1-5-3":23.7,"1-5-10":46.6,"1-5-20":60.2},
{"x":75.875,"1-5-1":3.0,"1-5-3":27.5,"1-5-10":42.8,"1-5-20":66.0},
{"x":76.125,"1-5-1":9.5,"1-5-3":27.3,"1-5-10":45.1,"1-5-20":62.1},
{"x":76.375,"1-5-1":2.4,"1-5-3":23.5,"1-5-10":42.4,"1-5-20":67.7},
{"x":76.625,"1-5-1":4.9,"1-5-3":25.9,"1-5-10":46.9,"1-5-20":62.0},
{"x":76.875,"1-5-1":10.0,"1-5-3":23.2,"1-5-10":42.2,"1-5-20":64.5},
{"x":77.125,"1-5-1":5.1,"1-5-3":27.7,"1-5-10":44.4,"1-5-20":67.4},
{"x":77.375,"1-5-1":11.2,"1-5-3":23.0,"1-5-10":42.1,"1-5-20":62.3},
{"x":77.625,"1-5-1":2.3,"1-5-3":25.2,"1-5-10":40.9,"1-5-20":67.0},
{"x":77.875,"1-5-1":5.5,"1-5-3":22.9,"1-5-10":43.9,"1-5-20":63.2},
{"x":78.125,"1-5-1":2.6,"1-5-3":21.7,"1-5-10":41.5,"1-5-20":66.5},
{"x":78.375,"1-5-1":7.9,"1-5-3":24.7,"1-5-10":45.3,"1-5-20":60.5},
{"x":78.625,"1-5-1":5.9,"1-5-3":22.3,"1-5-10":43.1,"1-5-20":65.8},
{"x":78.875,"1-5-1":2.7,"1-5-3":26.1,"1-5-10":45.9,"1-5-20":65.2},
{"x":79.125,"1-5-1":6.2,"1-5-3":23.8,"1-5-10":42.6,"1-5-20":60.7},
{"x":79.375,"1-5-1":2.4,"1-5-3":26.6,"1-5-10":41.6,"1-5-20":66.3},
{"x":79.625,"1-5-1":6.4,"1-5-3":23.3,"1-5-10":45.6,"1-5-20":59.9},
{"x":79.875,"1-5-1":4.4,"1-5-3":22.3,"1-5-10":39.9,"1-5-20":64.4}
]},
"transform": [{"fold": ["1-5-1", "1-5-3", "1-5-10", "1-5-20"], "as": ["series", "y"]}],
"mark": {"type": "line", "strokeWidth": 1.5, "clip": true},
"encoding": {
  "x": {"field": "x", "type": "quantitative",
    "scale": {"domain": [20, 80], "nice": false, "zero": false},
    "axis": {"values": [20,25,30,35,40,45,50,55,60,65,70,75,80],
      "labelExpr": "datum.value % 10 === 0 ? datum.label : ''",
      "tickSize": {"condition": {"test": "datum.value % 10 !== 0", "value": 6}, "value": 9},
      "tickWidth": 2, "tickColor": "black", "domainColor": "black", "domainWidth": 2,
      "labelFont": "DejaVu Sans", "labelFontSize": 16, "labelFontWeight": "bold", "labelColor": "black",
      "labelPadding": 9, "labelFlush": false, "labelOverlap": false, "grid": false,
      "title": "2θ (degree)", "titleFont": "DejaVu Sans", "titleFontSize": 21, "titleFontWeight": "bold",
      "titleColor": "black", "titlePadding": 5}},
  "y": {"field": "y", "type": "quantitative",
    "scale": {"domain": [0, 100], "nice": false},
    "axis": {"ticks": false, "labels": false, "grid": false, "domainColor": "black", "domainWidth": 2,
      "title": "Intensity (a.u.)", "titleFont": "DejaVu Sans", "titleFontSize": 21, "titleFontWeight": "bold",
      "titleColor": "black", "titlePadding": 16, "titleY": 214}},
  "color": {"field": "series", "type": "nominal",
    "scale": {"domain": ["1-5-1", "1-5-3", "1-5-10", "1-5-20"], "range": ["#000000", "#ff0000", "#00ff00", "#0000ff"]},
    "legend": {"orient": "none", "legendX": 282, "legendY": 10,
      "title": ["Cu-Cd-Zn ratios", ""], "titleOrient": "left", "titleAnchor": "middle",
      "titleFont": "DejaVu Sans", "titleFontSize": 21, "titleFontWeight": "bold", "titleColor": "black",
      "titleLineHeight": 35, "titlePadding": 13, "titleLimit": 400,
      "symbolType": "stroke", "symbolSize": 1849, "symbolStrokeWidth": 1.5,
      "clipHeight": 28.5, "rowPadding": 0, "padding": 0,
      "labelFont": "DejaVu Sans", "labelFontSize": 18, "labelFontWeight": "bold", "labelColor": "black",
      "labelOffset": 10}}
}
}
